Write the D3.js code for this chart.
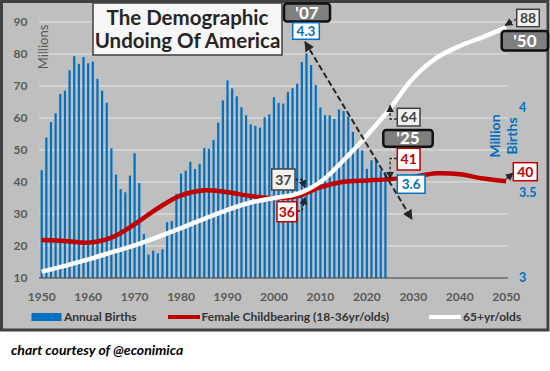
<!DOCTYPE html>
<html>
<head>
<meta charset="utf-8">
<script src="https://cdn.jsdelivr.net/npm/d3@7"></script>
<style>
  body { margin: 0; background: #fff; }
  svg { display: block; font-family: Lato, "Open Sans", sans-serif; }
</style>
</head>
<body>
<div id="chart"></div>
<script>
// annual births (millions), 1950-2024, right axis
const birthYears = d3.range(1950, 2025);
const births = [
  3.632, 3.823, 3.913, 3.965, 4.078, 4.097, 4.218, 4.300, 4.255, 4.295,
  4.258, 4.268, 4.167, 4.098, 4.027, 3.760, 3.606, 3.521, 3.502, 3.600,
  3.731, 3.556, 3.258, 3.137, 3.160, 3.144, 3.168, 3.327, 3.333, 3.494,
  3.612, 3.629, 3.681, 3.639, 3.669, 3.761, 3.757, 3.809, 3.910, 4.041,
  4.158, 4.111, 4.065, 4.000, 3.953, 3.900, 3.891, 3.881, 3.942, 3.959,
  4.059, 4.026, 4.022, 4.090, 4.112, 4.138, 4.266, 4.316, 4.248, 4.131,
  3.999, 3.954, 3.953, 3.932, 3.988, 3.978, 3.946, 3.856, 3.792, 3.748,
  3.640, 3.690, 3.690, 3.630, 3.620
];

// population lines (millions), left axis
const lineYears = [1950, 1955, 1960, 1965, 1970, 1975, 1980, 1985, 1990, 1995,
                   2000, 2005, 2010, 2015, 2020, 2025, 2030, 2035, 2040, 2045, 2050];
const female = [21.9, 21.6, 21.0, 22.6, 26.8, 31.8, 35.8, 37.4, 36.8, 35.6,
                35.0, 35.5, 38.4, 40.1, 40.5, 40.9, 41.6, 42.7, 42.4, 41.1, 40.2];
const seniors = [12.0, 13.8, 15.8, 18.0, 20.2, 22.8, 25.6, 28.5, 31.3, 33.6,
                 35.0, 36.3, 40.0, 46.8, 54.5, 63.0, 72.5, 78.8, 82.5, 85.3, 88.3];

const leftTicks = [10, 20, 30, 40, 50, 60, 70, 80, 90];
const rightTicks = [3, 3.5, 4];
const xTicks = d3.range(1950, 2051, 10);

const width = 550, height = 371;
const blue = '#0070c0', red = '#c00000', dark = '#404040';

const svg = d3.select('#chart').append('svg')
  .attr('width', width)
  .attr('height', height);

// frame
svg.append('rect')
  .attr('x', 1.5).attr('y', 1.5)
  .attr('width', 546.5).attr('height', 328.5)
  .attr('fill', '#bfbfbf')
  .attr('stroke', dark)
  .attr('stroke-width', 3);

const x = d3.scaleLinear().domain([1950, 2050]).range([41.7, 506.2]);
const yL = d3.scaleLinear().domain([10, 90]).range([278, 22]);
const yR = d3.scaleLinear().domain([3, 4.5]).range([278, 22]);

// markers
const defs = svg.append('defs');
function marker(id, size) {
  defs.append('marker')
    .attr('id', id)
    .attr('viewBox', '0 0 10 10')
    .attr('refX', 9).attr('refY', 5)
    .attr('markerUnits', 'userSpaceOnUse')
    .attr('markerWidth', size).attr('markerHeight', size)
    .attr('orient', 'auto-start-reverse')
    .append('path')
    .attr('d', 'M0,0 L10,5 L0,10 z')
    .attr('fill', '#262626');
}
marker('arrowBig', 10);
marker('arrowSmall', 8);

// gridlines
svg.append('g')
  .selectAll('line')
  .data(leftTicks.slice(1))
  .join('line')
  .attr('x1', 39).attr('x2', 508)
  .attr('y1', d => yL(d)).attr('y2', d => yL(d))
  .attr('stroke', '#d9d9d9')
  .attr('stroke-width', 1.5);

// bars
svg.append('g')
  .selectAll('rect')
  .data(births)
  .join('rect')
  .attr('x', (d, i) => x(birthYears[i]) - 1.1)
  .attr('width', 2.2)
  .attr('y', d => yR(d))
  .attr('height', d => yR(3) - yR(d))
  .attr('fill', blue);

// axis line
svg.append('line')
  .attr('x1', 39).attr('x2', 508)
  .attr('y1', yL(10)).attr('y2', yL(10))
  .attr('stroke', dark)
  .attr('stroke-width', 1.2);

// lines
const line = (vals, scale) => d3.line()
  .x((d, i) => x(lineYears[i]))
  .y(d => scale(d))
  .curve(d3.curveCatmullRom)(vals);

svg.append('path')
  .attr('d', line(female, yL))
  .attr('fill', 'none')
  .attr('stroke', red)
  .attr('stroke-width', 4.5);

svg.append('path')
  .attr('d', line(seniors, yL))
  .attr('fill', 'none')
  .attr('stroke', '#fff')
  .attr('stroke-width', 4.5);

// axis labels
const tickStyle = sel => sel
  .attr('font-size', 12)
  .attr('font-weight', 700)
  .attr('fill', '#595959');

svg.append('g')
  .selectAll('text')
  .data(leftTicks)
  .join('text')
  .attr('x', 27.5)
  .attr('y', d => yL(d))
  .attr('dy', '0.35em')
  .attr('text-anchor', 'end')
  .text(d => d)
  .call(tickStyle);

svg.append('g')
  .selectAll('text')
  .data(xTicks)
  .join('text')
  .attr('x', d => x(d))
  .attr('y', 301)
  .attr('text-anchor', 'middle')
  .text(d => d)
  .call(tickStyle);

svg.append('g')
  .selectAll('text')
  .data(rightTicks)
  .join('text')
  .attr('x', 519)
  .attr('y', d => yR(d))
  .attr('dy', '0.35em')
  .text(d => d)
  .attr('font-size', 12.5)
  .attr('font-weight', 700)
  .attr('fill', blue);

svg.append('text')
  .attr('transform', 'translate(47.5,47) rotate(-90)')
  .attr('text-anchor', 'middle')
  .attr('font-size', 13)
  .attr('fill', '#595959')
  .text('Millions');

svg.append('text')
  .attr('transform', 'translate(500,136) rotate(-90)')
  .attr('text-anchor', 'middle')
  .attr('font-size', 14)
  .attr('font-weight', 700)
  .attr('fill', blue)
  .text('Million');

svg.append('text')
  .attr('transform', 'translate(517,136) rotate(-90)')
  .attr('text-anchor', 'middle')
  .attr('font-size', 14)
  .attr('font-weight', 700)
  .attr('fill', blue)
  .text('Births');

// dashed trend arrow from the 2007 peak through 2024
const trend = [[2006.7, 4.383], [2029.7, 3.345]];
svg.append('line')
  .attr('x1', x(trend[0][0])).attr('y1', yR(trend[0][1]))
  .attr('x2', x(trend[1][0])).attr('y2', yR(trend[1][1]))
  .attr('stroke', '#262626')
  .attr('stroke-width', 2)
  .attr('stroke-dasharray', '6,3')
  .attr('marker-start', 'url(#arrowBig)')
  .attr('marker-end', 'url(#arrowBig)');

// leader lines for the callouts
const leaders = [
  `M295,179.5 H302 L${x(2007) - 1.5},${yL(37) - 4}`,
  `M297,211 H302 L${x(2007) - 1.5},${yL(36) + 2.5}`,
  `M397,119 H${x(2025)} V${yL(64)}`,
  `M397,158.5 H${x(2025)} V${yL(41)}`,
  `M516.5,19 L${x(2050) - 1},${yL(88) - 3}`,
  `M${x(2050)},${yL(40) - 3} L513,173`
];
svg.append('g')
  .selectAll('path')
  .data(leaders)
  .join('path')
  .attr('d', d => d)
  .attr('fill', 'none')
  .attr('stroke', '#262626')
  .attr('stroke-width', 1.3)
  .attr('stroke-dasharray', '3,2')
  .attr('marker-end', 'url(#arrowSmall)');

// callout boxes
function box(bx, by, w, h, label, fill, stroke, color, opts = {}) {
  const g = svg.append('g');
  g.append('rect')
    .attr('x', bx).attr('y', by)
    .attr('width', w).attr('height', h)
    .attr('rx', opts.rx || 0)
    .attr('fill', fill)
    .attr('stroke', stroke)
    .attr('stroke-width', opts.sw || 1.5);
  g.append('text')
    .attr('x', bx + w / 2)
    .attr('y', by + h / 2)
    .attr('dy', '0.36em')
    .attr('text-anchor', 'middle')
    .attr('font-size', opts.fs || 14)
    .attr('font-weight', 700)
    .attr('fill', color)
    .text(label);
}

box(284, 3.5, 46, 18, "'07", '#7f7f7f', '#111', '#fff', { rx: 3, sw: 2.5, fs: 17 });
box(292.7, 22.7, 26.6, 16.6, '4.3', '#fff', blue, blue, { fs: 13.5 });
box(271.7, 169, 23.3, 21, '37', '#f2f2f2', dark, dark);
box(277, 201.7, 19.7, 20, '36', '#fff', red, red);
box(397.3, 108.3, 22.7, 17.7, '64', '#f2f2f2', dark, dark);
box(383.3, 130, 49.4, 16.7, "'25", '#7f7f7f', '#111', '#fff', { rx: 3, sw: 2.5, fs: 17 });
box(397.3, 148.3, 22.7, 21.7, '41', '#fff', red, red);
box(397.3, 175, 27.7, 18.3, '3.6', '#fff', blue, blue, { fs: 13.5 });
box(516.7, 9.3, 22.6, 17.4, '88', '#f2f2f2', dark, dark);
box(501.7, 31, 46.3, 19.5, "'50", '#7f7f7f', '#111', '#fff', { rx: 3, sw: 2.5, fs: 17 });
box(513.3, 162.7, 24, 18, '40', '#fff', red, red);

// title
svg.append('rect')
  .attr('x', 93).attr('y', 3)
  .attr('width', 189).attr('height', 52)
  .attr('fill', '#f7f7f7')
  .attr('stroke', dark)
  .attr('stroke-width', 1.5);

svg.append('g')
  .selectAll('text')
  .data(['The Demographic', 'Undoing Of America'])
  .join('text')
  .attr('x', 187.5)
  .attr('y', (d, i) => 25 + i * 23.3)
  .attr('text-anchor', 'middle')
  .attr('font-size', 20.5)
  .attr('font-weight', 700)
  .attr('fill', '#262626')
  .text(d => d);

// legend
const legend = svg.append('g')
  .attr('font-size', 12)
  .attr('font-weight', 700)
  .attr('fill', '#333');
legend.append('rect')
  .attr('x', 31.5).attr('y', 313)
  .attr('width', 30).attr('height', 8)
  .attr('fill', blue);
legend.append('text').attr('x', 64).attr('y', 321).text('Annual Births');

legend.append('line')
  .attr('x1', 168).attr('x2', 200)
  .attr('y1', 317).attr('y2', 317)
  .attr('stroke', red).attr('stroke-width', 4);
legend.append('text').attr('x', 201.5).attr('y', 321).text('Female Childbearing (18-36yr/olds)');

legend.append('line')
  .attr('x1', 429).attr('x2', 461)
  .attr('y1', 317).attr('y2', 317)
  .attr('stroke', '#fff').attr('stroke-width', 4);
legend.append('text').attr('x', 463).attr('y', 321).text('65+yr/olds');

// credit
svg.append('text')
  .attr('x', 11).attr('y', 355)
  .attr('font-size', 14)
  .attr('font-weight', 700)
  .attr('font-style', 'italic')
  .attr('fill', '#000')
  .text('chart courtesy of @econimica');
</script>
</body>
</html>
